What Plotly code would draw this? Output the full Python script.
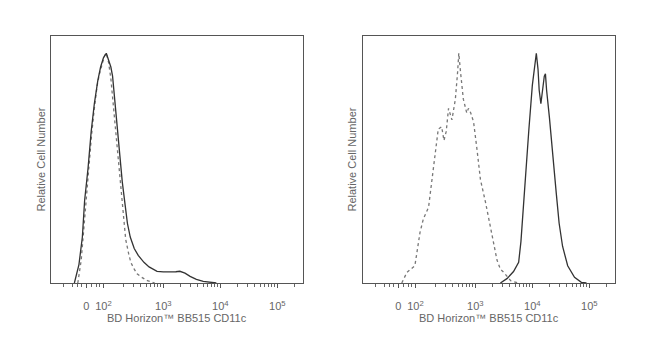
import numpy as np
import plotly.graph_objects as go

# ---- data (x in display decades of a biexponential axis, y = % of max) ----
left_solid_x = [1.44, 1.52, 1.58, 1.62, 1.68, 1.735, 1.79, 1.85, 1.90, 1.95, 2.00, 2.04, 2.08, 2.11,
                2.15, 2.20, 2.24, 2.28, 2.33, 2.37, 2.42, 2.49, 2.56, 2.66, 2.75, 2.89, 3.00, 3.12,
                3.22, 3.29, 3.38, 3.47, 3.58, 3.70, 3.82, 3.93]
left_solid_y = [0, 8, 20, 36, 50, 66, 78, 88, 94, 98, 100, 97, 94, 90,
                79, 66, 55, 44, 34, 26, 20, 15, 12, 9, 7, 5.1, 4.8, 4.7,
                4.9, 5.1, 4.3, 2.9, 1.6, 0.7, 0.3, 0]

left_dot_x = [1.50, 1.56, 1.62, 1.68, 1.74, 1.79, 1.84, 1.88, 1.93, 1.97, 2.00, 2.04, 2.08, 2.12,
              2.17, 2.21, 2.26, 2.30, 2.34, 2.39, 2.43, 2.49, 2.54, 2.62, 2.72, 2.85]
left_dot_y = [0, 10, 28, 48, 64, 76, 86, 91, 96, 99, 100, 96, 89, 78,
              66, 53, 39, 28, 19, 13, 9, 6, 4, 2.5, 1, 0]

right_dot_x = [1.71, 1.80, 1.94, 2.03, 2.09, 2.18, 2.27, 2.35, 2.41, 2.45, 2.49, 2.53, 2.59, 2.65,
               2.69, 2.71, 2.74, 2.79, 2.85, 2.88, 2.92, 2.97, 3.03, 3.09, 3.18, 3.26, 3.32, 3.38,
               3.44, 3.50, 3.62, 3.75]
right_dot_y = [0, 4.6, 7.5, 22, 28, 33, 51, 67, 68, 62, 66, 76, 71, 80,
               92, 100, 92, 80, 74, 76, 74, 70, 58, 45, 35, 25, 19, 10,
               6, 4.6, 1, 0]

right_solid_x = [3.44, 3.56, 3.67, 3.76, 3.80, 3.83, 3.885, 3.94, 4.00, 4.04, 4.07, 4.10, 4.12, 4.15,
                 4.18, 4.21, 4.23, 4.25, 4.30, 4.36, 4.42, 4.47, 4.53, 4.62, 4.74, 4.86, 4.95]
right_solid_y = [0, 2, 5, 9, 18, 29, 48, 67, 86, 95, 100, 93, 84, 78,
                 84, 90, 91, 84, 72, 54, 39, 26, 16, 7.5, 2.5, 0.3, 0]

tick_pos = [1.65, 1.95, 3.0, 4.0, 5.0]
tick_text = ["0", "10<sup>2</sup>", "10<sup>3</sup>", "10<sup>4</sup>", "10<sup>5</sup>"]
lin_minor = [1.25, 1.41, 1.50, 1.56, 1.74, 1.82, 1.88]
log_minor = [np.log10(k * 10.0 ** n) for n in (2, 3, 4) for k in range(2, 10)] + [np.log10(2e5)]

x_title = "BD Horizon™ BB515 CD11c"
y_title = "Relative Cell Number"

fig = go.Figure()
txt = "#666666"
fnt = "Liberation Sans, Arial, sans-serif"
fs = 11

for i, (sx, sy, dx, dy) in enumerate([(left_solid_x, left_solid_y, left_dot_x, left_dot_y),
                                      (right_solid_x, right_solid_y, right_dot_x, right_dot_y)]):
    xa = "x" if i == 0 else "x2"
    ya = "y" if i == 0 else "y2"
    fig.add_trace(go.Scatter(x=dx, y=dy, mode="lines", xaxis=xa, yaxis=ya,
                             line=dict(color="#777777", width=1.3, dash="dot"), showlegend=False))
    fig.add_trace(go.Scatter(x=sx, y=sy, mode="lines", xaxis=xa, yaxis=ya,
                             line=dict(color="#333333", width=1.3), showlegend=False))

xdoms = [[51 / 650, 303 / 650], [363 / 650, 615 / 650]]
ydom = [(357 - 283) / 357, (357 - 36) / 357]
common_x = dict(range=[1.03, 5.45], showline=True, linecolor="#555555", linewidth=1, mirror=True,
                tickmode="array", tickvals=tick_pos, ticktext=tick_text, ticks="outside",
                ticklen=4, tickcolor="#555555", showgrid=False, zeroline=False,
                tickfont=dict(family=fnt, size=fs, color=txt), ticklabelstandoff=9,
                minor=dict(tickmode="array", tickvals=lin_minor + log_minor, ticks="outside",
                           ticklen=2.5, tickcolor="#666666", showgrid=False))
common_y = dict(range=[0, 107.5], showline=True, linecolor="#555555", linewidth=1, mirror=True,
                showticklabels=False, ticks="", showgrid=False, zeroline=False, domain=ydom)

fig.update_layout(
    width=650, height=357, margin=dict(l=0, r=0, t=0, b=0),
    paper_bgcolor="white", plot_bgcolor="white",
    xaxis=dict(domain=xdoms[0], anchor="y", **common_x),
    yaxis=dict(anchor="x", **common_y),
    xaxis2=dict(domain=xdoms[1], anchor="y2", **common_x),
    yaxis2=dict(anchor="x2", **common_y),
)

for (d0, d1), yx in zip(xdoms, [40, 351]):
    fig.add_annotation(text=x_title, xref="paper", yref="paper", x=(d0 + d1) / 2,
                       y=1 - 318 / 357, showarrow=False, xanchor="center", yanchor="middle",
                       font=dict(family=fnt, size=fs, color=txt))
    fig.add_annotation(text=y_title, xref="paper", yref="paper", x=yx / 650,
                       y=(ydom[0] + ydom[1]) / 2, showarrow=False, textangle=-90,
                       xanchor="center", yanchor="middle",
                       font=dict(family=fnt, size=fs, color=txt))

fig.write_html("out.html")
